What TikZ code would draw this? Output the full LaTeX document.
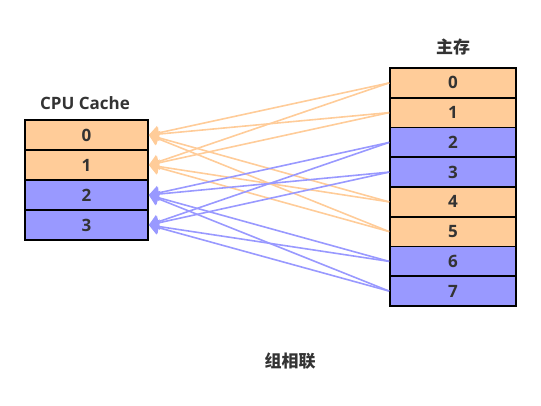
\documentclass[tikz,border=0pt]{standalone}
\usepackage{fontspec}
\setmainfont{Open Sans}
\newfontfamily\cjk{Noto Sans CJK SC}
\usetikzlibrary{arrows.meta}
\definecolor{cacheorange}{HTML}{FFCC99}
\definecolor{cacheblue}{HTML}{9999FF}
\definecolor{textgray}{HTML}{333333}
\tikzset{
  slot/.style={draw=black, line width=1.6pt, text=textgray, font=\fontsize{17}{17}\selectfont\bfseries, inner sep=0pt},
  cacheslot/.style={slot, minimum width=123pt, minimum height=30pt},
  memslot/.style={slot, minimum width=126pt, minimum height=29.75pt},
  title/.style={text=textgray, font=\fontsize{17}{17}\selectfont\bfseries},
  map/.style={line width=1.6pt, -{Triangle[length=10pt,width=14pt]}}
}
\begin{document}
\begin{tikzpicture}[x=1pt, y=-1pt]
        \useasboundingbox (0, 0) rectangle (541, 405);

        % CPU Cache
        \node[title] (cachetitle) at (85, 103) {CPU Cache};
        \node[cacheslot, fill=cacheorange] (c0) at (86.5, 135) {0};
        \node[cacheslot, fill=cacheorange] (c1) at (86.5, 165) {1};
        \node[cacheslot, fill=cacheblue] (c2) at (86.5, 195) {2};
        \node[cacheslot, fill=cacheblue] (c3) at (86.5, 225) {3};

        % Main memory
        \node[title] (memtitle) at (453, 47) {\cjk 主存};
        \node[memslot, fill=cacheorange] (m0) at (453, 82.9) {0};
        \node[memslot, fill=cacheorange] (m1) at (453, 112.6) {1};
        \node[memslot, fill=cacheblue] (m2) at (453, 142.4) {2};
        \node[memslot, fill=cacheblue] (m3) at (453, 172.1) {3};
        \node[memslot, fill=cacheorange] (m4) at (453, 201.9) {4};
        \node[memslot, fill=cacheorange] (m5) at (453, 231.6) {5};
        \node[memslot, fill=cacheblue] (m6) at (453, 261.4) {6};
        \node[memslot, fill=cacheblue] (m7) at (453, 291.1) {7};

        % Mapping
        \draw[map, cacheorange] (m0.west) -- (c0.east);
        \draw[map, cacheorange] (m0.west) -- (c1.east);
        \draw[map, cacheorange] (m1.west) -- (c0.east);
        \draw[map, cacheorange] (m1.west) -- (c1.east);
        \draw[map, cacheorange] (m4.west) -- (c0.east);
        \draw[map, cacheorange] (m4.west) -- (c1.east);
        \draw[map, cacheorange] (m5.west) -- (c0.east);
        \draw[map, cacheorange] (m5.west) -- (c1.east);

        \draw[map, cacheblue] (m2.west) -- (c2.east);
        \draw[map, cacheblue] (m2.west) -- (c3.east);
        \draw[map, cacheblue] (m3.west) -- (c2.east);
        \draw[map, cacheblue] (m3.west) -- (c3.east);
        \draw[map, cacheblue] (m6.west) -- (c2.east);
        \draw[map, cacheblue] (m6.west) -- (c3.east);
        \draw[map, cacheblue] (m7.west) -- (c2.east);
        \draw[map, cacheblue] (m7.west) -- (c3.east);

        % Caption
        \node[title] (caption) at (290, 361) {\cjk 组相联};
\end{tikzpicture}
\end{document}
